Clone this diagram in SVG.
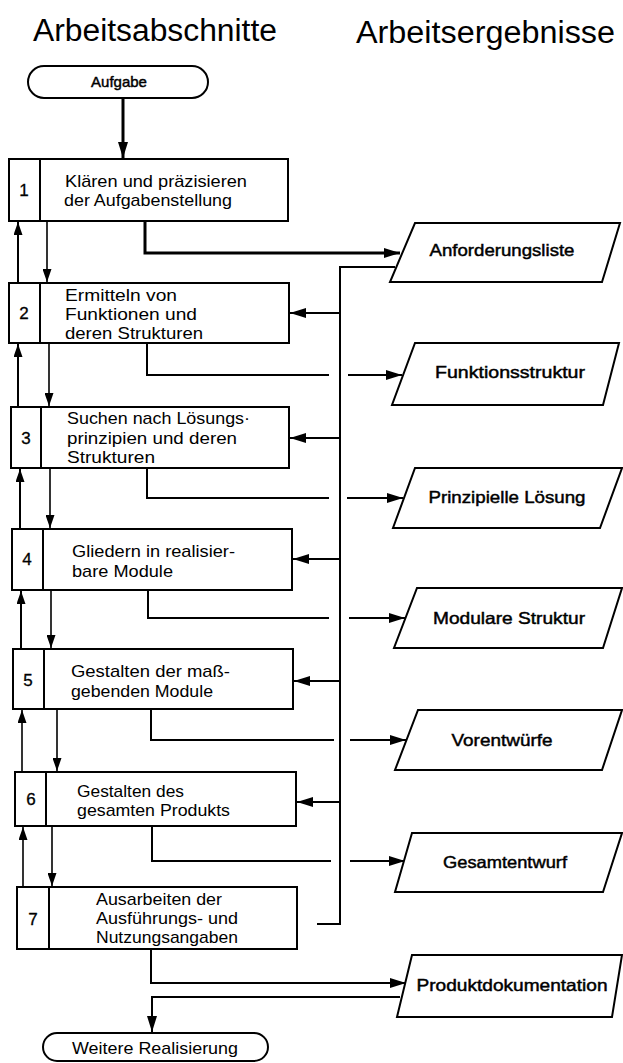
<svg xmlns="http://www.w3.org/2000/svg" width="623" height="1063" viewBox="0 0 623 1063">
  <style>
    .bg { fill: #ffffff; }
    .box { fill: #ffffff; stroke: #000; stroke-width: 2; }
    .term { fill: #ffffff; stroke: #000; stroke-width: 2; }
    .out { fill: #ffffff; stroke: #000; stroke-width: 2; stroke-linejoin: miter; }
    .div { stroke: #000; stroke-width: 2; }
    .ln { fill: none; stroke: #000; stroke-width: 2; }
    .thin { fill: none; stroke: #000; stroke-width: 1.6; }
    .thick { fill: none; stroke: #000; stroke-width: 3; }
    .title { font-family: "Liberation Sans", Arial, sans-serif; font-size: 31px; fill: #000; }
    .txt { font-family: "Liberation Sans", Arial, sans-serif; font-size: 17px; fill: #000; }
    .num { font-family: "Liberation Sans", Arial, sans-serif; font-size: 17px; fill: #000; stroke: #000; stroke-width: 0.3; text-anchor: middle; }
    .lbl { font-family: "Liberation Sans", Arial, sans-serif; font-size: 16.5px; fill: #000; stroke: #000; stroke-width: 0.45; text-anchor: middle; }
    .tlbl { font-family: "Liberation Sans", Arial, sans-serif; font-size: 15px; fill: #000; stroke: #000; stroke-width: 0.45; text-anchor: middle; }
  </style>
  <defs>
    <marker id="ah" markerUnits="userSpaceOnUse" markerWidth="16" markerHeight="10" refX="16" refY="5" orient="auto">
      <path d="M0,0 L16,5 L0,10 z" fill="#000"/>
    </marker>
    <marker id="ahs" markerUnits="userSpaceOnUse" markerWidth="13" markerHeight="9" refX="13" refY="4.5" orient="auto">
      <path d="M0,0 L13,4.5 L0,9 z" fill="#000"/>
    </marker>
  </defs>

  <rect class="bg" x="0" y="0" width="623" height="1063"/>

  <!-- column headings -->
  <text class="title" x="33" y="41" textLength="244" lengthAdjust="spacingAndGlyphs">Arbeitsabschnitte</text>
  <text class="title" x="356" y="43" textLength="259" lengthAdjust="spacingAndGlyphs">Arbeitsergebnisse</text>

  <!-- connectors -->
  <g id="connectors">
    <!-- start into step 1 -->
    <line class="thick" x1="123" y1="98" x2="123" y2="158" marker-end="url(#ah)"/>

    <!-- step-to-step (down) and back (up) arrows on the left -->
    <line class="thin" x1="47" y1="221" x2="47" y2="282" marker-end="url(#ahs)"/>
    <line class="ln" x1="18" y1="283" x2="18" y2="222" marker-end="url(#ahs)"/>
    <line class="thin" x1="49" y1="343" x2="49" y2="406" marker-end="url(#ahs)"/>
    <line class="ln" x1="18" y1="407" x2="18" y2="344" marker-end="url(#ahs)"/>
    <line class="thin" x1="50" y1="468" x2="50" y2="528" marker-end="url(#ahs)"/>
    <line class="ln" x1="20" y1="529" x2="20" y2="469" marker-end="url(#ahs)"/>
    <line class="thin" x1="51" y1="590" x2="51" y2="648" marker-end="url(#ahs)"/>
    <line class="ln" x1="21" y1="649" x2="21" y2="591" marker-end="url(#ahs)"/>
    <line class="thin" x1="57" y1="709" x2="57" y2="771" marker-end="url(#ahs)"/>
    <line class="thin" x1="22" y1="772" x2="22" y2="710" marker-end="url(#ahs)"/>
    <line class="thin" x1="52" y1="826" x2="52" y2="886" marker-end="url(#ahs)"/>
    <line class="thin" x1="23" y1="887" x2="23" y2="827" marker-end="url(#ahs)"/>

    <!-- results out of each step -->
    <polyline class="thick" points="145,221 145,253 400,253" marker-end="url(#ah)"/>
    <polyline class="ln" points="147,343 147,375 329,375"/>
    <line class="ln" x1="348" y1="375" x2="402" y2="375" marker-end="url(#ah)"/>
    <polyline class="ln" points="147,468 147,498 329,498"/>
    <line class="ln" x1="347" y1="498" x2="403" y2="498" marker-end="url(#ah)"/>
    <polyline class="ln" points="148,590 148,618 329,618"/>
    <line class="ln" x1="349" y1="618" x2="405" y2="618" marker-end="url(#ah)"/>
    <polyline class="ln" points="151,709 151,740 334,740"/>
    <line class="ln" x1="350" y1="740" x2="406" y2="740" marker-end="url(#ah)"/>
    <polyline class="ln" points="152,826 152,861 331,861"/>
    <line class="ln" x1="350" y1="861" x2="405" y2="861" marker-end="url(#ah)"/>
    <polyline class="ln" points="151,949 151,983 406,983" marker-end="url(#ah)"/>

    <!-- documentation on to further realisation -->
    <polyline class="ln" points="400,997 152,997 152,1032" marker-end="url(#ah)"/>

    <!-- requirement list fed back to the steps -->
    <polyline class="ln" stroke-width="2.5" points="395,267 340,267 340,924 317,924"/>
    <line class="ln" stroke-width="2.5" x1="340" y1="313" x2="290" y2="313" marker-end="url(#ah)"/>
    <line class="ln" stroke-width="2.5" x1="340" y1="438" x2="290" y2="438" marker-end="url(#ah)"/>
    <line class="ln" stroke-width="2.5" x1="340" y1="559" x2="293" y2="559" marker-end="url(#ah)"/>
    <line class="ln" stroke-width="2.5" x1="340" y1="681" x2="294" y2="681" marker-end="url(#ah)"/>
    <line class="ln" stroke-width="2.5" x1="340" y1="802" x2="297" y2="802" marker-end="url(#ah)"/>
  </g>

  <!-- start / end terminals -->
  <g id="start">
    <rect class="term" x="28" y="66" width="180" height="32" rx="16" ry="16"/>
    <text class="tlbl" x="119" y="87">Aufgabe</text>
  </g>
  <g id="end">
    <rect class="term" x="43" y="1033" width="225" height="28" rx="14" ry="14"/>
    <text class="txt" x="72" y="1054" textLength="166" lengthAdjust="spacingAndGlyphs">Weitere Realisierung</text>
  </g>

  <!-- work steps -->
  <g id="step1">
    <rect class="box" x="9" y="159" width="279" height="62"/>
    <line class="div" x1="40" y1="159" x2="40" y2="221"/>
    <text class="num" x="24" y="196">1</text>
    <text class="txt" x="65" y="187" textLength="182" lengthAdjust="spacingAndGlyphs">Klären und präzisieren</text>
    <text class="txt" x="64" y="206" textLength="168" lengthAdjust="spacingAndGlyphs">der Aufgabenstellung</text>
  </g>
  <g id="step2">
    <rect class="box" x="9" y="283" width="280" height="60"/>
    <line class="div" x1="40" y1="283" x2="40" y2="343"/>
    <text class="num" x="24" y="319">2</text>
    <text class="txt" x="65" y="301" textLength="112" lengthAdjust="spacingAndGlyphs">Ermitteln von</text>
    <text class="txt" x="65" y="320" textLength="132" lengthAdjust="spacingAndGlyphs">Funktionen und</text>
    <text class="txt" x="65" y="339" textLength="138" lengthAdjust="spacingAndGlyphs">deren Strukturen</text>
  </g>
  <g id="step3">
    <rect class="box" x="11" y="407" width="278" height="61"/>
    <line class="div" x1="41" y1="407" x2="41" y2="468"/>
    <text class="num" x="26" y="444">3</text>
    <text class="txt" x="67" y="424" textLength="183" lengthAdjust="spacingAndGlyphs">Suchen nach Lösungs·</text>
    <text class="txt" x="67" y="444" textLength="170" lengthAdjust="spacingAndGlyphs">prinzipien und deren</text>
    <text class="txt" x="67" y="463" textLength="88" lengthAdjust="spacingAndGlyphs">Strukturen</text>
  </g>
  <g id="step4">
    <rect class="box" x="12" y="529" width="280" height="61"/>
    <line class="div" x1="43" y1="529" x2="43" y2="590"/>
    <text class="num" x="27" y="565">4</text>
    <text class="txt" x="72" y="557" textLength="163" lengthAdjust="spacingAndGlyphs">Gliedern in realisier-</text>
    <text class="txt" x="72" y="577" textLength="101" lengthAdjust="spacingAndGlyphs">bare Module</text>
  </g>
  <g id="step5">
    <rect class="box" x="13" y="649" width="280" height="60"/>
    <line class="div" x1="44" y1="649" x2="44" y2="709"/>
    <text class="num" x="28" y="686">5</text>
    <text class="txt" x="71" y="677" textLength="159" lengthAdjust="spacingAndGlyphs">Gestalten  der maß-</text>
    <text class="txt" x="71" y="697" textLength="142" lengthAdjust="spacingAndGlyphs">gebenden Module</text>
  </g>
  <g id="step6">
    <rect class="box" x="15" y="772" width="281" height="54"/>
    <line class="div" x1="46" y1="772" x2="46" y2="826"/>
    <text class="num" x="31" y="805">6</text>
    <text class="txt" x="77" y="797" textLength="107" lengthAdjust="spacingAndGlyphs">Gestalten des</text>
    <text class="txt" x="77" y="816" textLength="153" lengthAdjust="spacingAndGlyphs">gesamten Produkts</text>
  </g>
  <g id="step7">
    <rect class="box" x="17" y="887" width="280" height="62"/>
    <line class="div" x1="49" y1="887" x2="49" y2="949"/>
    <text class="num" x="33" y="925">7</text>
    <text class="txt" x="96" y="905" textLength="126" lengthAdjust="spacingAndGlyphs">Ausarbeiten der</text>
    <text class="txt" x="96" y="924" textLength="142" lengthAdjust="spacingAndGlyphs">Ausführungs- und</text>
    <text class="txt" x="96" y="943" textLength="142" lengthAdjust="spacingAndGlyphs">Nutzungsangaben</text>
  </g>

  <!-- work results -->
  <g id="result1">
    <polygon class="out" points="415,223 620,223 602,282 390,282"/>
    <text class="lbl" x="502" y="256" textLength="145" lengthAdjust="spacingAndGlyphs">Anforderungsliste</text>
  </g>
  <g id="result2">
    <polygon class="out" points="415,343 619,343 603,405 392,405"/>
    <text class="lbl" x="510" y="378" textLength="150" lengthAdjust="spacingAndGlyphs">Funktionsstruktur</text>
  </g>
  <g id="result3">
    <polygon class="out" points="415,468 622,468 600,528 393,528"/>
    <text class="lbl" x="507" y="503" textLength="157" lengthAdjust="spacingAndGlyphs">Prinzipielle Lösung</text>
  </g>
  <g id="result4">
    <polygon class="out" points="417,588 622,588 603,648 394,648"/>
    <text class="lbl" x="509" y="624" textLength="152" lengthAdjust="spacingAndGlyphs">Modulare Struktur</text>
  </g>
  <g id="result5">
    <polygon class="out" points="418,710 622,710 602,770 395,770"/>
    <text class="lbl" x="502" y="746" textLength="101" lengthAdjust="spacingAndGlyphs">Vorentwürfe</text>
  </g>
  <g id="result6">
    <polygon class="out" points="412,833 622,833 603,892 395,892"/>
    <text class="lbl" x="505" y="868" textLength="124" lengthAdjust="spacingAndGlyphs">Gesamtentwurf</text>
  </g>
  <g id="result7">
    <polygon class="out" points="412,955 622,955 612,1017 397,1017"/>
    <text class="lbl" x="512" y="991" textLength="191" lengthAdjust="spacingAndGlyphs">Produktdokumentation</text>
  </g>
</svg>
